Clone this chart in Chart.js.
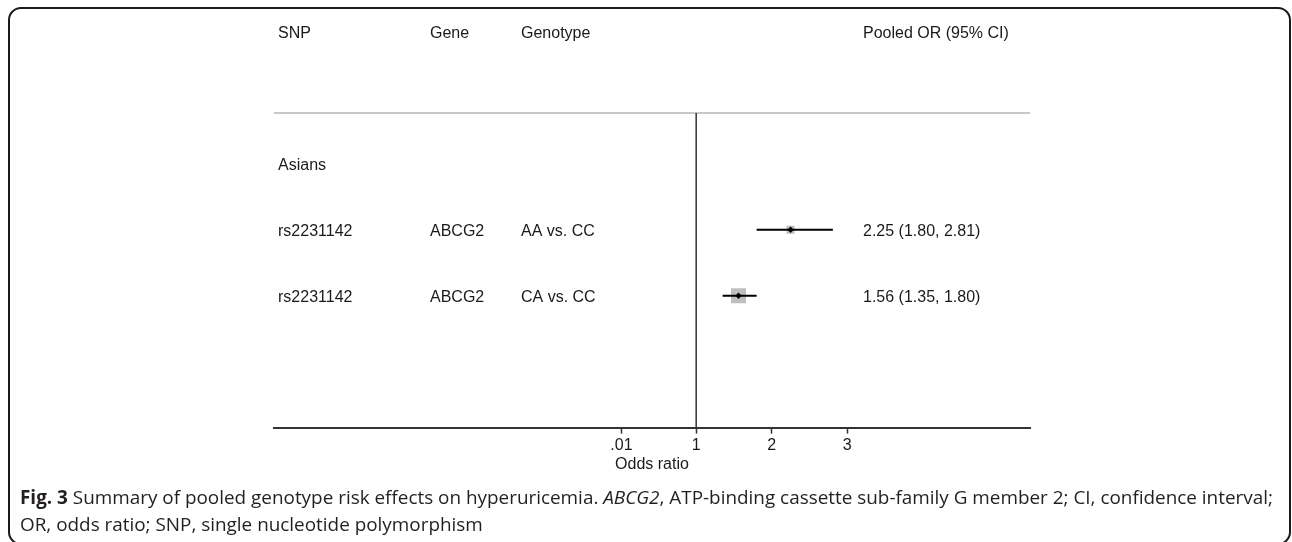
<!DOCTYPE html>
<html><head><meta charset="utf-8">
<script src="https://cdn.jsdelivr.net/npm/chart.js@4"></script>
<style>
html,body{margin:0;padding:0;background:#fff;width:1292px;height:542px;overflow:hidden;}
#wrap{position:absolute;left:0;top:0;width:1292px;height:542px;}
#frame{position:absolute;left:8px;top:7px;width:1283px;height:538px;border:2px solid #1a1a1a;border-radius:13px;box-sizing:border-box;}
#cap{position:absolute;left:20px;top:484px;font-family:"Open Sans";font-size:18.9px;line-height:27px;color:#231f20;white-space:nowrap;}
</style></head><body>
<div id="wrap"><canvas id="c" width="1292" height="542"></canvas></div>
<div id="frame"></div>
<div id="cap"><div id="l1"><b>Fig. 3</b> Summary of pooled genotype risk effects on hyperuricemia. <i>ABCG2</i>, ATP-binding cassette sub-family G member 2; CI, confidence interval;</div><div id="l2">OR, odds ratio; SNP, single nucleotide polymorphism</div></div>
<script>
// ---- data ----
const headers = ['SNP', 'Gene', 'Genotype', 'Pooled OR (95% CI)'];
const groupLabel = 'Asians';
const snps = ['rs2231142', 'rs2231142'];
const genes = ['ABCG2', 'ABCG2'];
const genotypes = ['AA vs. CC', 'CA vs. CC'];
const orValues = [2.25, 1.56];
const ciLower = [1.80, 1.35];
const ciUpper = [2.81, 1.80];
const weights = [22, 78];
const xTicks = [0.01, 1, 2, 3];
const xTitle = 'Odds ratio';

// ---- layout (row positions in y units) ----
const headerRow = -1, groupRow = 1, firstRow = 2;
const yMin = 0.23, yMax = 5.0, xMin = -4.59, xMax = 5.42;
const rowY = snps.map((_, i) => firstRow + i);
const FONT = '"Liberation Sans", Arial, sans-serif';
const TXT = '#1a1a1a';

const dotData = orValues.map((v, i) => ({x: v, y: rowY[i]}));
const boxData = orValues.map((v, i) => ({x: v, y: rowY[i]}));
const boxRadius = weights.map(w => 1.7 * Math.sqrt(w) / Math.SQRT2);

const datasets = [
  {type: 'scatter', data: dotData, pointStyle: 'rectRot', pointRadius: 3.2, backgroundColor: '#000', borderWidth: 0, order: 0},
  ...orValues.map((v, i) => ({type: 'line', data: [{x: ciLower[i], y: rowY[i]}, {x: ciUpper[i], y: rowY[i]}],
      borderColor: '#000', borderWidth: 2, pointRadius: 0, order: 1})),
  {type: 'scatter', data: boxData, pointStyle: 'rect', pointRadius: boxRadius, backgroundColor: '#bfbfbf', borderWidth: 0, order: 2},
  {type: 'line', data: [{x: 1, y: yMin}, {x: 1, y: yMax}], borderColor: '#333', borderWidth: 1.5, pointRadius: 0, order: 3, clip: false},
  {type: 'line', data: [{x: xMin, y: yMin}, {x: xMax, y: yMin}], borderColor: '#c8c8c8', borderWidth: 2, pointRadius: 0, order: 4, clip: false}
];

const textPlugin = {
  id: 'forestText',
  afterDatasetsDraw(chart) {
    const ctx = chart.ctx, y = chart.scales.y;
    const dy = 1.5;
    ctx.save();
    ctx.font = '16px ' + FONT;
    ctx.fillStyle = TXT;
    ctx.textBaseline = 'middle';
    ctx.textAlign = 'left';
    const cols = [278, 430, 521, 863];
    const hy = y.getPixelForValue(headerRow) + dy;
    headers.forEach((h, i) => ctx.fillText(h, cols[i], hy));
    ctx.fillText(groupLabel, cols[0], y.getPixelForValue(groupRow) + dy);
    snps.forEach((s, i) => {
      const py = y.getPixelForValue(rowY[i]) + dy;
      ctx.fillText(s, cols[0], py);
      ctx.fillText(genes[i], cols[1], py);
      ctx.fillText(genotypes[i], cols[2], py);
      ctx.fillText(`${orValues[i].toFixed(2)} (${ciLower[i].toFixed(2)}, ${ciUpper[i].toFixed(2)})`, cols[3], py);
    });
    ctx.restore();
  }
};

new Chart(document.getElementById('c'), {
  type: 'scatter',
  data: {datasets},
  options: {
    responsive: false, animation: false, devicePixelRatio: 1,
    layout: {padding: {left: 274, right: 262, top: 113, bottom: 68}},
    plugins: {legend: {display: false}, tooltip: {enabled: false}},
    scales: {
      x: {
        type: 'linear', min: xMin, max: xMax,
        afterBuildTicks: ax => { ax.ticks = xTicks.map(v => ({value: v})); },
        ticks: {callback: v => v === 0.01 ? '.01' : String(v), font: {family: FONT, size: 16}, color: TXT, padding: 2, maxRotation: 0, autoSkip: false},
        grid: {drawOnChartArea: false, drawTicks: true, tickLength: 6, tickColor: '#333', tickWidth: 1.5},
        border: {display: true, color: '#333', width: 2},
        title: {display: true, text: xTitle, font: {family: FONT, size: 16}, color: TXT, padding: {top: -2, bottom: 0}}
      },
      y: {type: 'linear', min: yMin, max: yMax, reverse: true, display: false}
    }
  },
  plugins: [textPlugin]
});
</script>
</body></html>
